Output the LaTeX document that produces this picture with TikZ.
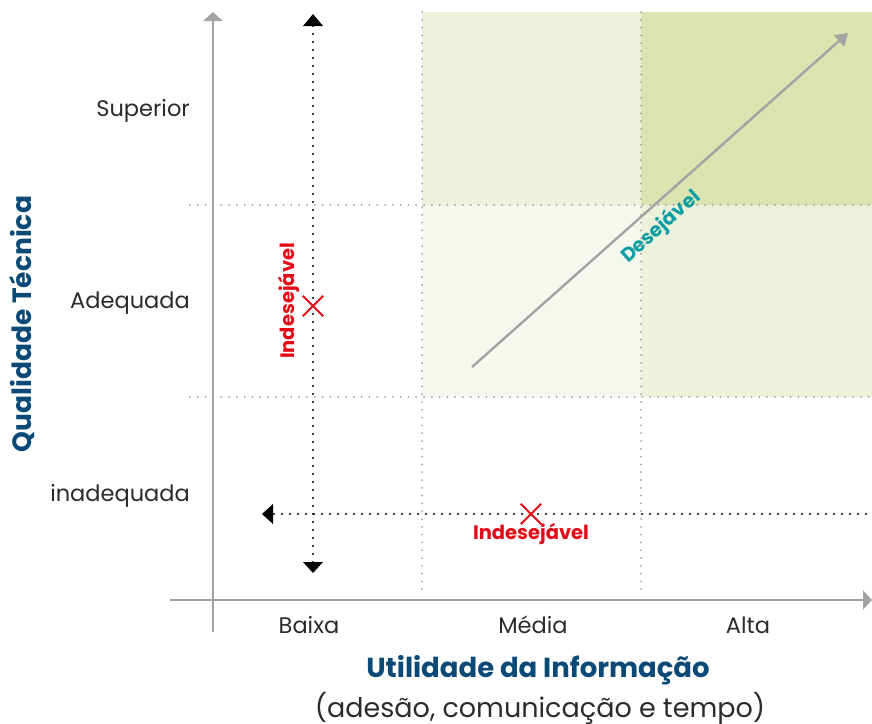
\documentclass[tikz,border=0pt]{standalone}
\usepackage{fontspec}
\setmainfont{Poppins}
\usetikzlibrary{arrows.meta}
\definecolor{axisgray}{HTML}{A3A3A3}
\definecolor{gridgray}{HTML}{A0A0A0}
\definecolor{titleblue}{HTML}{0B4A77}
\definecolor{badred}{HTML}{E30A17}
\definecolor{goodteal}{HTML}{0E9DA2}
\definecolor{greenA}{HTML}{ECF1DB}
\definecolor{greenB}{HTML}{D9E4B0}
\definecolor{greenC}{HTML}{F5F8EE}
\definecolor{labelgray}{HTML}{2B2B2B}
\tikzset{
  axisline/.style={draw=axisgray, line width=2.6pt, -{Triangle[length=9pt,width=19pt]}},
  gridline/.style={draw=gridgray, line width=2pt, line cap=round, dash pattern=on 0pt off 7.8pt},
  blackdots/.style={draw=black, line width=2.4pt, line cap=round, dash pattern=on 0pt off 8pt},
  tickfont/.style={font=\fontsize{22.5}{26}\selectfont, text=labelgray, inner sep=0pt},
  badlabel/.style={font=\bfseries\fontsize{19.5}{22}\selectfont, text=badred, inner sep=0pt},
  crossmark/.style={draw=badred, line width=2pt},
}
\begin{document}
\begin{tikzpicture}[x=1pt,y=-1pt]
\useasboundingbox (0,0) rectangle (872,723);
% shaded regions
\fill[greenA] (422,12) rectangle (641,205);
\fill[greenB] (641,12) rectangle (872,205);
\fill[greenC] (422,205) rectangle (641,397);
\fill[greenA] (641,205) rectangle (872,397);
% grid
\coordinate (v1t) at (422,12); \coordinate (v1b) at (422,596);
\coordinate (v2t) at (641,12); \coordinate (v2b) at (641,596);
\coordinate (h1l) at (190,205); \coordinate (h1r) at (872,205);
\coordinate (h2l) at (190,397); \coordinate (h2r) at (872,397);
\draw[gridline] (v1t) -- (v1b);
\draw[gridline] (v2t) -- (v2b);
\draw[gridline] (h1l) -- (h1r);
\draw[gridline] (h2l) -- (h2r);
% axes
\coordinate (yb) at (213,632); \coordinate (yt) at (213,12);
\coordinate (xl) at (170,600); \coordinate (xr) at (872,600);
\draw[axisline] (yb) -- (yt);
\draw[axisline] (xl) -- (xr);
% black dotted arrows
\coordinate (va) at (313,26); \coordinate (vb) at (313,562);
\coordinate (vat) at (313,14); \coordinate (vbt) at (313,573);
\draw[blackdots] (va) -- (vb);
\fill (303,26) -- (vat) -- (323,26) -- cycle;
\fill (303,562) -- (vbt) -- (323,562) -- cycle;
\coordinate (ha) at (274,514); \coordinate (hb) at (872,514);
\draw[blackdots] (ha) -- (hb);
\fill (273,504) -- (262,514) -- (273,524) -- cycle;
% crosses
\node[minimum size=20pt, inner sep=0pt] (x1) at (313,306) {};
\draw[crossmark] (x1.north west) -- (x1.south east) (x1.north east) -- (x1.south west);
\node[minimum size=20pt, inner sep=0pt] (x2) at (531,514) {};
\draw[crossmark] (x2.north west) -- (x2.south east) (x2.north east) -- (x2.south west);
\node[badlabel, rotate=90] (bad1) at (289,301) {Indesejável};
\node[badlabel] (bad2) at (531,534) {Indesejável};
% desirable arrow
\coordinate (ds) at (472,367); \coordinate (de) at (848,33);
\draw[draw=axisgray, line width=2.4pt, -{Triangle[length=12pt,width=15pt]}] (ds) -- (de);
\node[font=\bfseries\fontsize{19.5}{22}\selectfont, text=goodteal, rotate=41.6, inner sep=0pt] (good) at (661,227) {Desejável};
% y labels
\node[tickfont, anchor=east] (sup) at (190,111) {Superior};
\node[tickfont, anchor=east] (adq) at (190,303) {Adequada};
\node[tickfont, anchor=east] (inad) at (190,496) {inadequada};
% x labels
\node[tickfont] (bx) at (309,625) {Baixa};
\node[tickfont] (md) at (533,625) {Média};
\node[tickfont] (al) at (748,625) {Alta};
% titles
\node[font=\bfseries\fontsize{27.5}{30}\selectfont, text=titleblue, inner sep=0pt] (xt) at (538,670) {Utilidade da Informação};
\node[font=\fontsize{27}{30}\selectfont, text=labelgray, inner sep=0pt] (xs) at (540,708) {(adesão, comunicação e tempo)};
\node[font=\bfseries\fontsize{26.5}{30}\selectfont, text=titleblue, rotate=90, inner sep=0pt] (yt2) at (22,324) {Qualidade Técnica};
\end{tikzpicture}
\end{document}
